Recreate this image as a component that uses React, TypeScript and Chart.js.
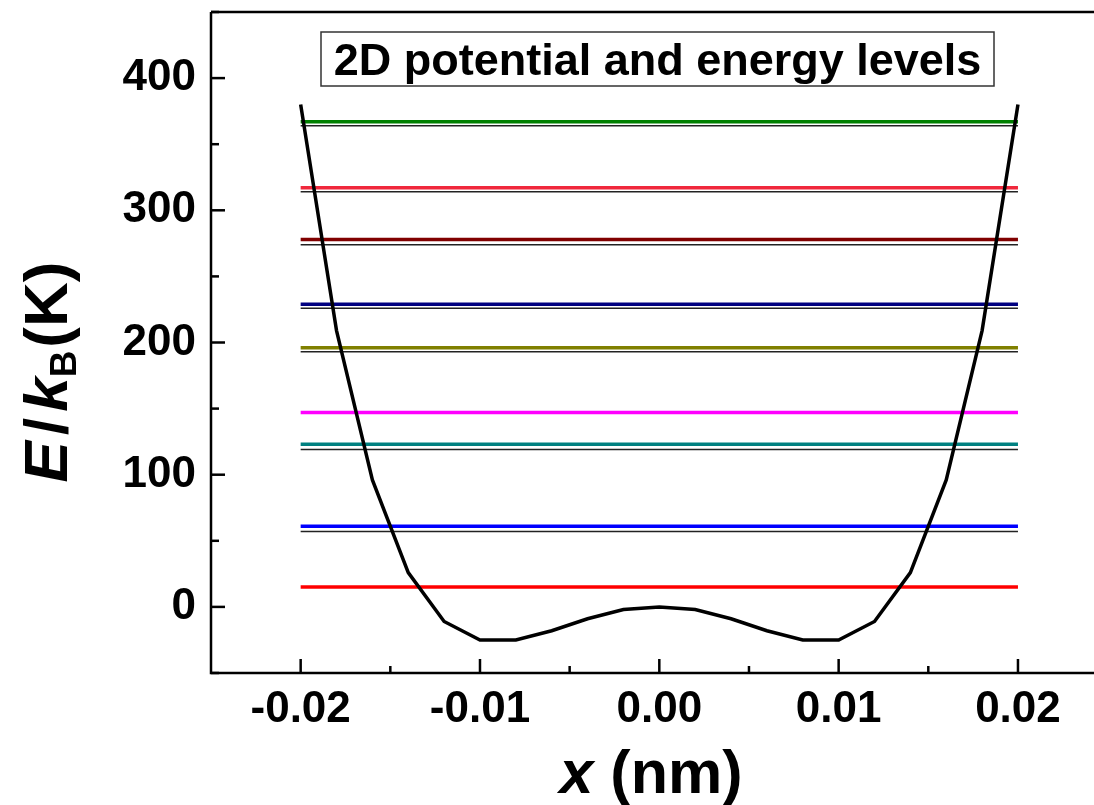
import React, { useEffect, useRef } from "react";
import { Chart, registerables } from "chart.js";

Chart.register(...registerables);

// ---- data ----
const xValues = [
  -0.02, -0.018, -0.016, -0.014, -0.012, -0.01, -0.008, -0.006, -0.004, -0.002, 0,
  0.002, 0.004, 0.006, 0.008, 0.01, 0.012, 0.014, 0.016, 0.018, 0.02,
];
const potential = [
  380, 209, 96, 26, -11, -25, -25, -18, -9, -2, 0, -2, -9, -18, -25, -25, -11, 26, 96, 209, 380,
];
const levelValues = [15, 61, 123, 147, 196, 229, 278, 317, 367];
const levelColors = [
  "#ff0000", "#0000ff", "#008080", "#ff00ff", "#808000", "#000080", "#800000", "#f0283c", "#008000",
];
const refLevelValues = [57, 119, 193, 226, 274, 314, 364];
const levelXRange = [-0.02, 0.02];

const xTickValues = [-0.02, -0.01, 0, 0.01, 0.02];
const xTickLabels = ["-0.02", "-0.01", "0.00", "0.01", "0.02"];
const xMinorTicks = [-0.015, -0.005, 0.005, 0.015];
const yTickValues = [0, 100, 200, 300, 400];
const yTickLabels = ["0", "100", "200", "300", "400"];
const yMinorTicks = [-50, 50, 150, 250, 350, 450];

const titleText = "2D potential and energy levels";
const FONT = '"Liberation Sans", Arial, Helvetica, sans-serif';

const decorPlugin = {
  id: "decor",
  afterDraw(chart: any) {
    const ctx = chart.ctx;
    const { left, right, top, bottom } = chart.chartArea;
    const xs = chart.scales.x;
    const ys = chart.scales.y;
    ctx.save();
    ctx.strokeStyle = "#000";
    ctx.lineCap = "butt";
    // inward ticks
    ctx.lineWidth = 2.5;
    const vt = (v: number, len: number) => {
      const px = xs.getPixelForValue(v);
      ctx.beginPath();
      ctx.moveTo(px, bottom);
      ctx.lineTo(px, bottom - len);
      ctx.stroke();
    };
    const ht = (v: number, len: number) => {
      const py = ys.getPixelForValue(v);
      ctx.beginPath();
      ctx.moveTo(left, py);
      ctx.lineTo(left + len, py);
      ctx.stroke();
    };
    xTickValues.forEach((v) => vt(v, 14));
    xMinorTicks.forEach((v) => vt(v, 7));
    yTickValues.forEach((v) => ht(v, 14));
    yMinorTicks.forEach((v) => ht(v, 8));
    // axis lines
    ctx.lineWidth = 2.5;
    ctx.beginPath();
    ctx.moveTo(left, top);
    ctx.lineTo(left, bottom);
    ctx.lineTo(right, bottom);
    ctx.stroke();
    ctx.beginPath();
    ctx.moveTo(left, top);
    ctx.lineTo(right, top);
    ctx.stroke();

    // title box
    const bx = 321, by = 32, bw = 673, bh = 54;
    ctx.fillStyle = "#fff";
    ctx.fillRect(bx, by, bw, bh);
    ctx.lineWidth = 1.5;
    ctx.strokeStyle = "#333";
    ctx.strokeRect(bx, by, bw, bh);
    ctx.fillStyle = "#000";
    ctx.font = `bold 45px ${FONT}`;
    ctx.textAlign = "center";
    ctx.textBaseline = "alphabetic";
    ctx.fillText(titleText, bx + bw / 2, by + 43);

    // x axis title
    ctx.textAlign = "left";
    const f1 = `italic bold 61px ${FONT}`;
    const f2 = `bold 61px ${FONT}`;
    ctx.font = f1;
    const wx = ctx.measureText("x").width;
    ctx.font = f2;
    const wr = ctx.measureText(" (nm)").width;
    let sx = 651 - (wx + wr) / 2;
    ctx.font = f1;
    ctx.fillText("x", sx, 793);
    ctx.font = f2;
    ctx.fillText(" (nm)", sx + wx, 793);

    // y axis title (rotated)
    const segs = [
      { t: "E", f: `italic bold 62px ${FONT}`, dy: 0, gap: 6 },
      { t: "/", f: `bold 62px ${FONT}`, dy: 0, gap: 6 },
      { t: "k", f: `italic bold 62px ${FONT}`, dy: 0, gap: 0 },
      { t: "B", f: `bold 37px ${FONT}`, dy: 9, gap: 3 },
      { t: "(K)", f: `bold 62px ${FONT}`, dy: 0, gap: 0 },
    ];
    let total = 0;
    const widths = segs.map((s) => {
      ctx.font = s.f;
      const w = ctx.measureText(s.t).width;
      total += w + s.gap;
      return w;
    });
    ctx.translate(67, 372);
    ctx.rotate(-Math.PI / 2);
    let cx = -total / 2;
    segs.forEach((s, i) => {
      ctx.font = s.f;
      ctx.fillText(s.t, cx, s.dy);
      cx += widths[i] + s.gap;
    });
    ctx.restore();
  },
};

export default function App() {
  const ref = useRef<HTMLCanvasElement | null>(null);
  useEffect(() => {
    if (!ref.current) return;
    const datasets: any[] = [];
    datasets.push({
      label: "potential",
      data: xValues.map((x, i) => ({ x, y: potential[i] })),
      borderColor: "#000",
      borderWidth: 3.5,
      pointRadius: 0,
      tension: 0,
      order: 0,
    });
    levelValues.forEach((v, i) => {
      datasets.push({
        label: `level ${i}`,
        data: levelXRange.map((x) => ({ x, y: v })),
        borderColor: levelColors[i],
        borderWidth: 3.5,
        pointRadius: 0,
        order: 1,
      });
    });
    refLevelValues.forEach((v, i) => {
      datasets.push({
        label: `ref ${i}`,
        data: levelXRange.map((x) => ({ x, y: v })),
        borderColor: "#222",
        borderWidth: 1.5,
        pointRadius: 0,
        order: 2,
      });
    });
    const chart = new Chart(ref.current, {
      type: "line",
      data: { datasets },
      plugins: [decorPlugin],
      options: {
        animation: false,
        responsive: false,
        maintainAspectRatio: false,
        layout: { padding: { top: 12, right: 0, left: 0, bottom: 0 } },
        plugins: { legend: { display: false }, tooltip: { enabled: false }, title: { display: false } },
        scales: {
          x: {
            type: "linear",
            min: -0.025,
            max: 0.02424,
            grid: { display: false },
            border: { display: false },
            afterBuildTicks: (s: any) => {
              s.ticks = xTickValues.map((value) => ({ value }));
            },
            afterFit: (s: any) => {
              s.height = 132;
              s.paddingLeft = 0;
              s.paddingRight = 0;
            },
            ticks: {
              autoSkip: false,
              maxRotation: 0,
              padding: 2,
              color: "#000",
              font: { family: FONT, size: 44, weight: "bold" },
              callback: (_v: any, i: number) => xTickLabels[i],
            },
          },
          y: {
            type: "linear",
            min: -50,
            max: 450,
            grid: { display: false },
            border: { display: false },
            afterBuildTicks: (s: any) => {
              s.ticks = yTickValues.map((value) => ({ value }));
            },
            afterFit: (s: any) => {
              s.width = 211;
              s.paddingTop = 0;
              s.paddingBottom = 0;
            },
            ticks: {
              autoSkip: false,
              padding: 7,
              color: "#000",
              font: { family: FONT, size: 44, weight: "bold" },
              callback: (_v: any, i: number) => yTickLabels[i],
            },
          },
        },
      },
    });
    return () => chart.destroy();
  }, []);
  return (
    <div style={{ position: "fixed", left: 0, top: 0, width: 1094, height: 805, background: "#fff" }}>
      <canvas ref={ref} width={1094} height={805} style={{ width: 1094, height: 805 }} />
    </div>
  );
}
